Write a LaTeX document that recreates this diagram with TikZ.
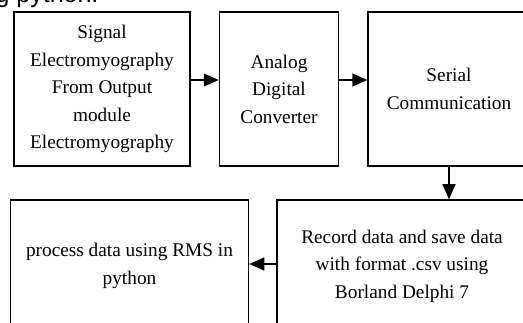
\documentclass[tikz,border=0pt]{standalone}
\usepackage{fontspec}
\setmainfont{Liberation Serif}
\newfontfamily\capfont{Liberation Sans}
\usepackage{tikz}
\usetikzlibrary{shapes,arrows.meta,positioning,calc}
\tikzset{blk/.style={
    draw,
    rectangle,
    line width=1.5pt,
    align=center,
    font=\fontsize{19.3}{27.5}\selectfont,
    inner sep=0pt,
  }}
\tikzset{arr/.style={
    line width=1.5pt,
    -{Triangle[length=15pt,width=13pt]},
  }}
\begin{document}
\begin{tikzpicture}[x=1pt,y=-1pt]
        \useasboundingbox (0,0) rectangle (523,323);
        \clip (0,0) rectangle (523,323);

        \node[anchor=base east,font=\capfont\fontsize{25}{30}\selectfont] (cap) at (102,3) {g python.};

        \node (emg) [blk,minimum width=176pt,minimum height=154pt] at (102,89)
        {Signal\\Electromyography\\From Output\\module\\Electromyography};
        \node (adc) [blk,right=28pt of emg,minimum width=119pt,minimum height=154pt]
        {Analog\\Digital\\Converter};
        \node (serial) [blk,right=28pt of adc,minimum width=162pt,minimum height=154pt]
        {Serial\\Communication};

        \node (record) [blk,minimum width=250pt,minimum height=132pt] at (402,266)
        {Record data and save data\\with format .csv using\\Borland Delphi 7};
        \node (rms) [blk,left=27pt of record,minimum width=238pt,minimum height=132pt]
        {process data using RMS in\\python};

        \draw [arr] ([yshift=9pt]emg.east) -- ([yshift=9pt]emg.east -| adc.west);
        \draw [arr] ([yshift=9pt]adc.east) -- ([yshift=9pt]adc.east -| serial.west);
        \draw [arr] (serial.south) -- (serial.south |- record.north);
        \draw [arr] ([yshift=2pt]record.west) -- ([yshift=2pt]record.west -| rms.east);
      \end{tikzpicture}
\end{document}
